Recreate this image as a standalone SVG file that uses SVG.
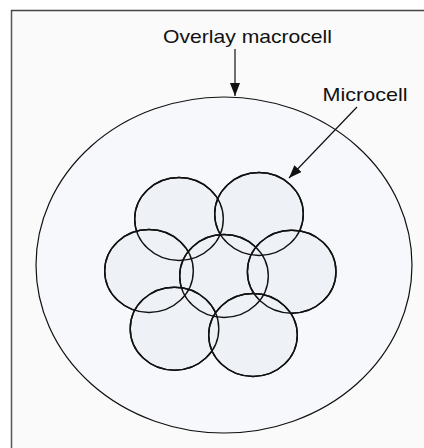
<svg xmlns="http://www.w3.org/2000/svg" width="424" height="448" viewBox="0 0 424 448">
<defs>
<style>
.lbl{font-family:"Liberation Sans",Arial,sans-serif;font-size:19px;fill:#111}
.cell{fill:#eef1f6;stroke:#111;stroke-width:1.4}
.conn{stroke:#111;stroke-width:1.2;fill:none}
</style>
<marker id="ah2" viewBox="0 0 13 10" refX="13" refY="5" markerWidth="13" markerHeight="10" markerUnits="userSpaceOnUse" orient="auto"><path d="M0,0 L13,5 L0,10 Z" fill="#111"/></marker>
</defs>
<rect x="0" y="0" width="424" height="448" fill="#ffffff"/>
<rect x="11" y="10" width="420" height="445" fill="#fafafa"/>
<line x1="11.5" y1="10" x2="11.5" y2="448" stroke="#555" stroke-width="1.5"/>
<line x1="11" y1="10.5" x2="424" y2="10.5" stroke="#444" stroke-width="1.5"/>
<g id="macrocell">
<ellipse cx="224" cy="265" rx="188" ry="168" fill="#f7f8fb" stroke="#111" stroke-width="1.2"/>
</g>
<g id="microcells">
<ellipse id="cell-tl" class="cell" cx="179" cy="219" rx="44.3" ry="41.5"/>
<ellipse id="cell-tr" class="cell" cx="259" cy="214" rx="44.3" ry="41.5"/>
<ellipse id="cell-l" class="cell" cx="149" cy="271" rx="44.3" ry="41.5"/>
<ellipse id="cell-c" class="cell" cx="224" cy="276" rx="44.3" ry="41.5"/>
<ellipse id="cell-r" class="cell" cx="291.7" cy="271.7" rx="44.3" ry="41.5"/>
<ellipse id="cell-bl" class="cell" cx="174.5" cy="328.7" rx="44.3" ry="41.5"/>
<ellipse id="cell-br" class="cell" cx="253" cy="335" rx="44.3" ry="41.5"/>
</g>
<g id="microcell-outlines" fill="none" stroke="#111" stroke-width="1.4">
<ellipse cx="179" cy="219" rx="44.3" ry="41.5"/>
<ellipse cx="259" cy="214" rx="44.3" ry="41.5"/>
<ellipse cx="149" cy="271" rx="44.3" ry="41.5"/>
<ellipse cx="224" cy="276" rx="44.3" ry="41.5"/>
<ellipse cx="291.7" cy="271.7" rx="44.3" ry="41.5"/>
<ellipse cx="174.5" cy="328.7" rx="44.3" ry="41.5"/>
<ellipse cx="253" cy="335" rx="44.3" ry="41.5"/>
</g>
<g id="connectors">
<line class="conn" x1="235" y1="49" x2="235" y2="96" marker-end="url(#ah2)"/>
<line class="conn" x1="357" y1="107" x2="289" y2="178" marker-end="url(#ah2)"/>
</g>
<g id="label-overlay"><text class="lbl" x="163" y="42.5" textLength="169" lengthAdjust="spacingAndGlyphs">Overlay macrocell</text></g>
<g id="label-micro"><text class="lbl" x="322.5" y="100.5" textLength="85" lengthAdjust="spacingAndGlyphs">Microcell</text></g>
</svg>
